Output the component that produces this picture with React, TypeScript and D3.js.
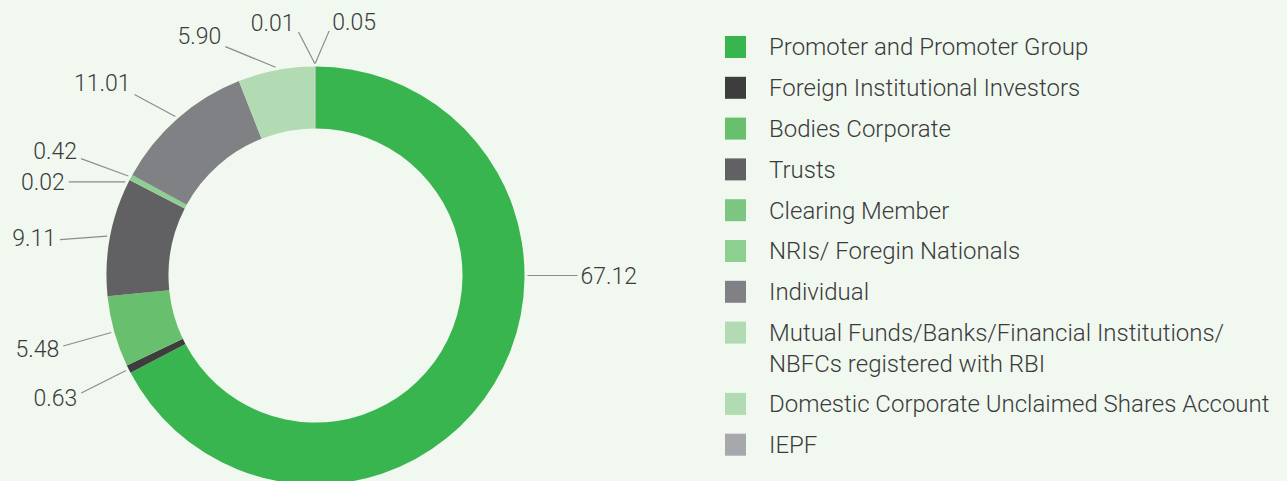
import React, { useEffect, useRef } from 'react';
import * as d3 from 'd3';

// shareholding categories, clockwise from 12 o'clock
const categories = [
  'Promoter and Promoter Group',
  'Foreign Institutional Investors',
  'Bodies Corporate',
  'Trusts',
  'Clearing Member',
  'NRIs/ Foregin Nationals',
  'Individual',
  'Mutual Funds/Banks/Financial Institutions/\nNBFCs registered with RBI',
  'Domestic Corporate Unclaimed Shares Account',
  'IEPF',
];
const shares = [67.12, 0.63, 5.48, 9.11, 0.02, 0.42, 11.01, 5.9, 0.01, 0.05];
const shareLabels = ['67.12', '0.63', '5.48', '9.11', '0.02', '0.42', '11.01', '5.90', '0.01', '0.05'];
const colors = [
  '#39b54f',
  '#3d3d3d',
  '#68bf6e',
  '#616163',
  '#7dc682',
  '#8dce91',
  '#808184',
  '#b3dbb3',
  '#b3dbb3',
  '#a7a8ab',
];

const W = 1287;
const H = 481;
const BG = '#f1f8f0';
const FONT = 'Roboto, "Noto Sans", sans-serif';
const TEXT = '#3b3b3b';

// where the callouts go (degrees from 12 o'clock, clockwise), when not at the slice middle
const labelTweaks: Record<
  number,
  { angle?: number; r?: number; fromLabel?: boolean; flat?: boolean; ty?: number }
> = {
  0: { angle: 90, fromLabel: true },
  3: { angle: 278, r: 258 },
  4: { angle: 296.2, fromLabel: true, flat: true, r: 264 },
  5: { angle: 296.5, ty: -2 },
  6: { angle: 315, r: 256, ty: -3 },
  7: { angle: 338.5, r: 246 },
  8: { angle: 356, r: 244, ty: 3 },
  9: { angle: 3.2, r: 245, ty: 3 },
};

const App = () => {
  const svgRef = useRef(null);

  useEffect(() => {
    const svg = d3.select(svgRef.current);
    svg.selectAll('*').remove();

    svg.append('rect').attr('width', W).attr('height', H).attr('fill', BG);

    const cx = 315.5;
    const cy = 275.5;
    const outerR = 209;
    const innerR = 147;

    const data = shares.map((v, i) => ({ v, i }));
    const pie = d3
      .pie<{ v: number; i: number }>()
      .sort(null)
      .value((d) => d.v);
    const arcs = pie(data);

    const arc = d3
      .arc<d3.PieArcDatum<{ v: number; i: number }>>()
      .innerRadius(innerR)
      .outerRadius(outerR);

    const g = svg.append('g').attr('transform', `translate(${cx},${cy})`);

    g.selectAll('path.slice')
      .data(arcs)
      .enter()
      .append('path')
      .attr('class', 'slice')
      .attr('d', arc)
      .attr('fill', (d) => colors[d.data.i]);

    // callouts
    const pt = (deg: number, r: number) => {
      const a = (deg * Math.PI) / 180;
      return [Math.sin(a) * r, -Math.cos(a) * r];
    };

    arcs.forEach((d) => {
      const i = d.data.i;
      const mid = (((d.startAngle + d.endAngle) / 2) * 180) / Math.PI;
      const tw = labelTweaks[i] || {};
      const lAngle = tw.angle ?? mid;
      const lR = tw.r ?? 262;
      const sAngle = tw.fromLabel ? lAngle : mid;
      const [x1, y1] = pt(sAngle, outerR + 3);
      let [x2, y2] = pt(lAngle, lR);
      if (tw.flat) {
        y2 = y1;
        x2 = Math.sign(x1) * Math.sqrt(lR * lR - y1 * y1);
      }

      g.append('line')
        .attr('x1', x1)
        .attr('y1', y1)
        .attr('x2', x2)
        .attr('y2', y2)
        .attr('stroke', '#8c8c8c')
        .attr('stroke-width', 1.2);

      const left = x2 < 0;
      const dirY = tw.flat ? 0 : y2 / Math.hypot(x2, y2);
      g.append('text')
        .attr('x', left ? x2 - 4 : x2 + 3)
        .attr('y', y2 + dirY * 12 + (tw.ty ?? 0))
        .attr('dy', '0.35em')
        .attr('text-anchor', left ? 'end' : 'start')
        .attr('font-family', FONT)
        .attr('font-weight', 300)
        .attr('font-size', 23)
        .attr('fill', TEXT)
        .text(shareLabels[i]);
    });

    // legend
    const lg = svg.append('g').attr('transform', 'translate(725,36)');
    const rowGap = 40.8;
    const lineGap = 30.5;
    let y = 0;
    categories.forEach((name, i) => {
      const lines = name.split('\n');
      lg.append('rect')
        .attr('x', 0)
        .attr('y', y)
        .attr('width', 21)
        .attr('height', 22)
        .attr('fill', colors[i]);
      lines.forEach((ln, k) => {
        lg.append('text')
          .attr('x', 44)
          .attr('y', y + 11 + k * lineGap)
          .attr('dy', '0.35em')
          .attr('font-family', FONT)
          .attr('font-weight', 300)
          .attr('font-size', 24)
          .attr('fill', TEXT)
          .text(ln);
      });
      y += rowGap + (lines.length - 1) * lineGap;
    });
  }, []);

  return (
    <svg
      ref={svgRef}
      width={W}
      height={H}
      style={{ position: 'absolute', left: 0, top: 0, display: 'block' }}
    ></svg>
  );
};

export default App;
